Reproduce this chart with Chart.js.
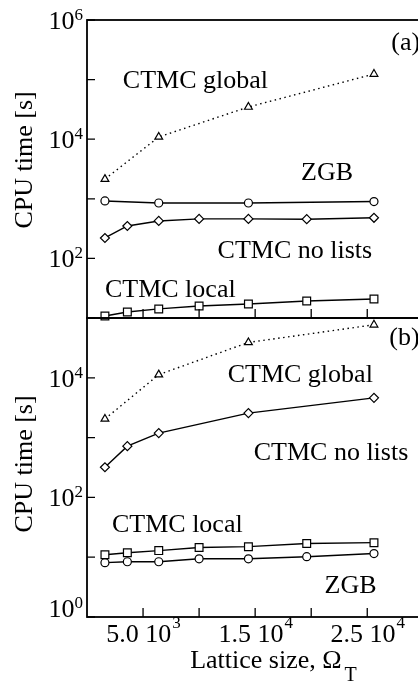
<!DOCTYPE html>
<html>
<head>
<meta charset="utf-8">
<script src="https://cdn.jsdelivr.net/npm/chart.js@4.4.0/dist/chart.umd.min.js"></script>
<style>
    html, body { margin: 0; padding: 0; background: #fff; }
    #wrap { position: relative; width: 418px; height: 694px; overflow: hidden; }
    canvas { position: absolute; left: 0; }
    #chartA { top: 0; }
    #chartB { top: 300px; }
</style>
</head>
<body>
<div id="wrap">
    <canvas id="chartA" width="430" height="330"></canvas>
    <canvas id="chartB" width="430" height="394"></canvas>
</div>
<script>
// lattice sizes (40^2 ... 160^2)
const latticeSizes = [1600, 3600, 6400, 10000, 14400, 19600, 25600];
const sparseSizes = [1600, 6400, 14400, 25600];
const noListsSizesB = [1600, 3600, 6400, 14400, 25600];

// panel (a), CPU time [s]
const globalTimeA = [2140, 10900, 34700, 124000];
const zgbTimeA = [920, 850, 850, 900];
const noListsTimeA = [220, 350, 425, 460, 460, 455, 480];
const localTimeA = [10.8, 12.6, 14.2, 15.9, 17.2, 19.3, 20.8];

// panel (b), CPU time [s]
const globalTimeB = [2050, 11300, 39000, 77000];
const noListsTimeB = [319, 720, 1190, 2570, 4620];
const localTimeB = [11.0, 11.9, 12.9, 14.5, 15.0, 16.9, 17.5];
const zgbTimeB = [8.1, 8.4, 8.4, 9.4, 9.4, 10.2, 11.5];

// axis ticks
const xTickValues = [5000, 10000, 15000, 20000, 25000];
const xLabelValues = [5000, 15000, 25000];
const xLabelMantissa = ['5.0', '1.5', '2.5'];
const xLabelExp = ['3', '4', '4'];
const yLabelExpA = [6, 4, 2];
const yLabelExpB = [4, 2, 0];

const FONT = "'Liberation Serif', 'Times New Roman', serif";

function pts(xs, ys) {
    return xs.map((v, i) => ({ x: v, y: ys[i] }));
}

function series(xs, ys, style, radius, dotted) {
    return {
        data: pts(xs, ys),
        borderColor: '#000',
        borderWidth: 1.4,
        borderDash: dotted ? [1.5, 3.5] : [],
        pointStyle: style,
        pointRadius: radius,
        pointBorderWidth: 1.2,
        pointBorderColor: '#000',
        pointBackgroundColor: '#fff',
        tension: 0,
        fill: false,
        clip: false
    };
}

// draws the frame, inward ticks, power-of-ten labels and the texts
function decor(cfg) {
    return {
        id: 'decor',
        afterDraw(chart) {
            const { ctx, chartArea: a, scales: { x, y } } = chart;
            ctx.save();
            ctx.strokeStyle = '#000';
            ctx.fillStyle = '#000';
            ctx.lineWidth = 1.8;
            ctx.strokeRect(a.left, a.top, a.right - a.left, a.bottom - a.top);

            ctx.lineWidth = 1.3;
            ctx.beginPath();
            const e0 = Math.round(Math.log10(cfg.yMin));
            const e1 = Math.round(Math.log10(cfg.yMax));
            for (let e = e0; e <= e1; e++) {
                const py = y.getPixelForValue(Math.pow(10, e));
                ctx.moveTo(a.left, py);
                ctx.lineTo(a.left + 8, py);
            }
            xTickValues.forEach(v => {
                const px = x.getPixelForValue(v);
                ctx.moveTo(px, a.bottom);
                ctx.lineTo(px, a.bottom - 9);
            });
            ctx.stroke();

            // y labels 10^n
            ctx.textAlign = 'left';
            ctx.textBaseline = 'alphabetic';
            cfg.yLabels.forEach(e => {
                const py = y.getPixelForValue(Math.pow(10, e));
                const baseY = Math.min(py + 9, a.bottom);
                ctx.font = '17px ' + FONT;
                const ew = ctx.measureText(String(e)).width;
                ctx.font = '26px ' + FONT;
                const bw = ctx.measureText('10').width;
                const right = a.left - 4;
                ctx.fillText('10', right - ew - bw, baseY);
                ctx.font = '17px ' + FONT;
                ctx.fillText(String(e), right - ew, baseY - 9);
            });

            // x labels  m 10^n
            if (cfg.xLabels) {
                xLabelValues.forEach((v, i) => {
                    const px = x.getPixelForValue(v);
                    const base = xLabelMantissa[i] + ' 10';
                    ctx.font = '26px ' + FONT;
                    const bw = ctx.measureText(base).width;
                    ctx.font = '17px ' + FONT;
                    const ew = ctx.measureText(xLabelExp[i]).width;
                    const left = px - (bw + ew) / 2;
                    ctx.font = '26px ' + FONT;
                    ctx.fillText(base, left, a.bottom + 25);
                    ctx.font = '17px ' + FONT;
                    ctx.fillText(xLabelExp[i], left + bw + 1, a.bottom + 11);
                });
                // axis title
                ctx.font = '26px ' + FONT;
                const t = 'Lattice size, \u03A9';
                const tx = x.getPixelForValue(9200);
                ctx.fillText(t, tx, a.bottom + 51);
                const tw = ctx.measureText(t).width;
                ctx.font = '20px ' + FONT;
                ctx.fillText('T', tx + tw + 3, a.bottom + 64);
            }

            // curve names
            ctx.font = '26px ' + FONT;
            cfg.texts.forEach(t => {
                ctx.fillText(t.text, x.getPixelForValue(t.x), y.getPixelForValue(t.y));
            });

            // y title
            ctx.save();
            ctx.translate(32, y.getPixelForValue(cfg.yTitleAt));
            ctx.rotate(-Math.PI / 2);
            ctx.textAlign = 'center';
            ctx.fillText('CPU time [s]', 0, 0);
            ctx.restore();

            ctx.restore();
        }
    };
}

function createPanel(chartId, datasets, cfg) {
    const ctx = document.getElementById(chartId).getContext('2d');
    new Chart(ctx, {
        type: 'line',
        data: { datasets: datasets },
        options: {
            responsive: false,
            animation: false,
            devicePixelRatio: 1,
            layout: { padding: cfg.padding },
            plugins: {
                legend: { display: false },
                tooltip: { enabled: false }
            },
            scales: {
                x: {
                    type: 'linear',
                    min: 0,
                    max: 30000,
                    grid: { display: false },
                    border: { display: false },
                    ticks: { display: false },
                    afterFit: s => { s.height = cfg.xAxisHeight; }
                },
                y: {
                    type: 'logarithmic',
                    min: cfg.yMin,
                    max: cfg.yMax,
                    grid: { display: false },
                    border: { display: false },
                    ticks: { display: false },
                    afterFit: s => { s.width = 87; }
                }
            }
        },
        plugins: [decor(cfg)]
    });
}

createPanel('chartA', [
    series(sparseSizes, globalTimeA, 'triangle', 4.5, true),
    series(sparseSizes, zgbTimeA, 'circle', 4, false),
    series(latticeSizes, noListsTimeA, 'rectRot', 4.5, false),
    series(latticeSizes, localTimeA, 'rect', 5.5, false)
], {
    padding: { top: 20, left: 0, right: 5, bottom: 12 },
    xAxisHeight: 0,
    yMin: 10,
    yMax: 1e6,
    yLabels: yLabelExpA,
    xLabels: false,
    yTitleAt: 4500,
    texts: [
        { text: 'CTMC global', x: 3200, y: 72000 },
        { text: 'ZGB', x: 19100, y: 2070 },
        { text: 'CTMC no lists', x: 11650, y: 102 },
        { text: 'CTMC local', x: 1600, y: 22.5 },
        { text: '(a)', x: 27150, y: 314000 }
    ]
});

createPanel('chartB', [
    series(sparseSizes, globalTimeB, 'triangle', 4.5, true),
    series(noListsSizesB, noListsTimeB, 'rectRot', 4.5, false),
    series(latticeSizes, localTimeB, 'rect', 5.5, false),
    series(latticeSizes, zgbTimeB, 'circle', 4, false)
], {
    padding: { top: 18, left: 0, right: 5, bottom: 0 },
    xAxisHeight: 77,
    yMin: 1,
    yMax: 1e5,
    yLabels: yLabelExpB,
    xLabels: true,
    yTitleAt: 362,
    texts: [
        { text: 'CTMC global', x: 12550, y: 8500 },
        { text: 'CTMC no lists', x: 14870, y: 422 },
        { text: 'CTMC local', x: 2225, y: 26.4 },
        { text: 'ZGB', x: 21190, y: 2.5 },
        { text: '(b)', x: 26970, y: 35400 }
    ]
});
</script>
</body>
</html>
